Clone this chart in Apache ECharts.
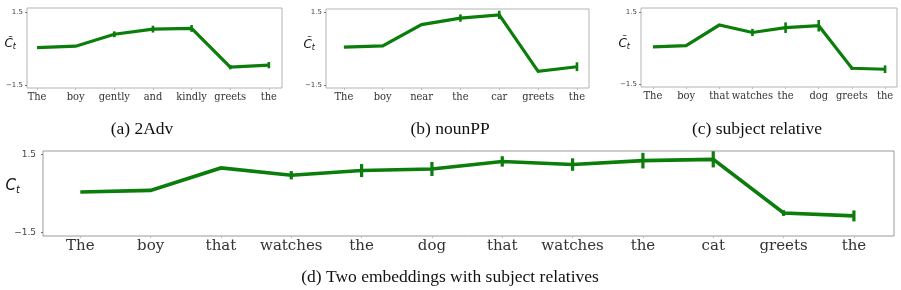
<!DOCTYPE html>
<html><head><meta charset="utf-8">
<script src="https://cdn.jsdelivr.net/npm/echarts@6/dist/echarts.min.js"></script>
<style>html,body{margin:0;padding:0;background:#fff}#c{width:901px;height:290px}</style>
</head><body><div id="c"></div>
<script>
// ---- data ----
const catsA = ['The','boy','gently','and','kindly','greets','the'];
const valsA = [0.05, 0.11, 0.60, 0.81, 0.84, -0.75, -0.67];
const errsA = [0, 0, 0.12, 0.14, 0.14, 0.09, 0.13];

const catsB = ['The','boy','near','the','car','greets','the'];
const valsB = [0.06, 0.11, 0.98, 1.25, 1.38, -0.93, -0.74];
const errsB = [0, 0, 0, 0.15, 0.17, 0, 0.18];

const catsC = ['The','boy','that','watches','the','dog','greets','the'];
const valsC = [0.06, 0.11, 0.97, 0.66, 0.86, 0.94, -0.83, -0.87];
const errsC = [0, 0, 0, 0.15, 0.22, 0.24, 0.07, 0.16];

const catsD = ['The','boy','that','watches','the','dog','that','watches','the','cat','greets','the'];
const valsD = [0.06, 0.12, 0.98, 0.70, 0.88, 0.94, 1.23, 1.11, 1.26, 1.31, -0.75, -0.86];
const errsD = [0, 0, 0, 0.16, 0.25, 0.27, 0.20, 0.24, 0.30, 0.31, 0.11, 0.21];

const yTicks = [-1.5, 1.5];
const captions = ['(a) 2Adv', '(b) nounPP', '(c) subject relative', '(d) Two embeddings with subject relatives'];

// ---- layout / style ----
const GREEN = '#0b7d0b';
const panels = [
  {cats: catsA, vals: valsA, errs: errsA, grid: {left: 27, top: 8, width: 255, height: 80}, xmin: -0.26, xmax: 6.34, ymin: -1.61, ymax: 1.68, small: true, name: 'C\u0303'},
  {cats: catsB, vals: valsB, errs: errsB, grid: {left: 326, top: 9, width: 263, height: 79}, xmin: -0.46, xmax: 6.31, ymin: -1.61, ymax: 1.62, small: true, name: 'C\u0303'},
  {cats: catsC, vals: valsC, errs: errsC, grid: {left: 641, top: 8, width: 256, height: 79}, xmin: -0.36, xmax: 7.36, ymin: -1.61, ymax: 1.68, small: true, name: 'C\u0303'},
  {cats: catsD, vals: valsD, errs: errsD, grid: {left: 43, top: 151, width: 851, height: 85}, xmin: -0.53, xmax: 11.57, ymin: -1.63, ymax: 1.63, small: false, name: 'C'}
];

const grid = [], xAxis = [], yAxis = [], series = [];
panels.forEach((p, i) => {
  grid.push(Object.assign({show: true, containLabel: false, outerBoundsMode: 'none',
    borderColor: p.small ? '#b4b4b4' : '#9a9a9a', borderWidth: 1, backgroundColor: 'transparent'}, p.grid));
  xAxis.push({
    type: 'value', gridIndex: i, min: p.xmin, max: p.xmax, position: 'bottom',
    axisLine: {show: false, onZero: false}, splitLine: {show: false},
    axisTick: {show: true, customValues: p.cats.map((c, k) => k), length: 2, lineStyle: {color: '#bbb'}},
    axisLabel: {
      customValues: p.cats.map((c, k) => k),
      formatter: v => p.cats[Math.round(v)] || '',
      fontFamily: p.small ? '"DejaVu Serif Condensed", "DejaVu Serif", serif' : '"DejaVu Serif", serif',
      fontSize: p.small ? 11 : 15,
      color: '#333', margin: p.small ? 4 : 3
    }
  });
  yAxis.push({
    type: 'value', gridIndex: i, min: p.ymin, max: p.ymax, position: 'left',
    axisLine: {show: false, onZero: false}, splitLine: {show: false},
    axisTick: {show: true, inside: false, customValues: yTicks, length: 2, lineStyle: {color: '#777'}},
    axisLabel: {customValues: yTicks, formatter: v => (v < 0 ? '\u2212' : '') + Math.abs(v).toFixed(1),
      fontFamily: '"DejaVu Sans", sans-serif', fontSize: p.small ? 7 : 9, color: '#444', margin: p.small ? 4 : 7},
    name: '{c|' + p.name + '}{s|t}',
    nameLocation: 'middle', nameRotate: 0, nameGap: p.small ? 11 : 23, nameMoveOverlap: false,
    nameTextStyle: {
      rich: {
        c: {fontFamily: '"DejaVu Sans", sans-serif', fontStyle: 'italic', fontSize: p.small ? 12 : 15, color: '#111'},
        s: {fontFamily: '"DejaVu Sans", sans-serif', fontStyle: 'italic', fontSize: p.small ? 8 : 10, color: '#111', padding: [p.small ? 6 : 7, 0, 0, 0]}
      },
      padding: [0, 0, p.small ? 8 : 14, 0]
    }
  });
  series.push({
    type: 'line', xAxisIndex: i, yAxisIndex: i,
    data: p.vals.map((v, k) => [k, v]),
    showSymbol: false, symbol: 'none', silent: true,
    lineStyle: {color: GREEN, width: p.small ? 3.2 : 3.6, join: 'miter'},
    z: 2
  });
  series.push({
    type: 'custom', xAxisIndex: i, yAxisIndex: i,
    data: p.vals.map((v, k) => [k, v, p.errs[k]]),
    silent: true, z: 3,
    renderItem: (params, api) => {
      const x = api.value(0), y = api.value(1), e = api.value(2);
      if (!e) return null;
      const a = api.coord([x, y + e]), b = api.coord([x, y - e]);
      return {type: 'line', shape: {x1: a[0], y1: a[1], x2: b[0], y2: b[1]},
        style: {stroke: GREEN, lineWidth: p.small ? 2.6 : 3.2}};
    }
  });
});

const capStyle = {fontFamily: '"Liberation Serif", "Times New Roman", serif', fontSize: 17.5, fill: '#111'};
const capPos = [[142, 129], [450, 129], [757, 129], [450, 277]];
const graphic = captions.map((t, i) => ({
  type: 'text', x: capPos[i][0], y: capPos[i][1],
  style: Object.assign({text: t, textAlign: 'center', textVerticalAlign: 'middle'}, capStyle)
}));

const chart = echarts.init(document.getElementById('c'), null, {renderer: 'canvas'});
chart.setOption({animation: false, grid, xAxis, yAxis, series, graphic});
</script></body></html>
